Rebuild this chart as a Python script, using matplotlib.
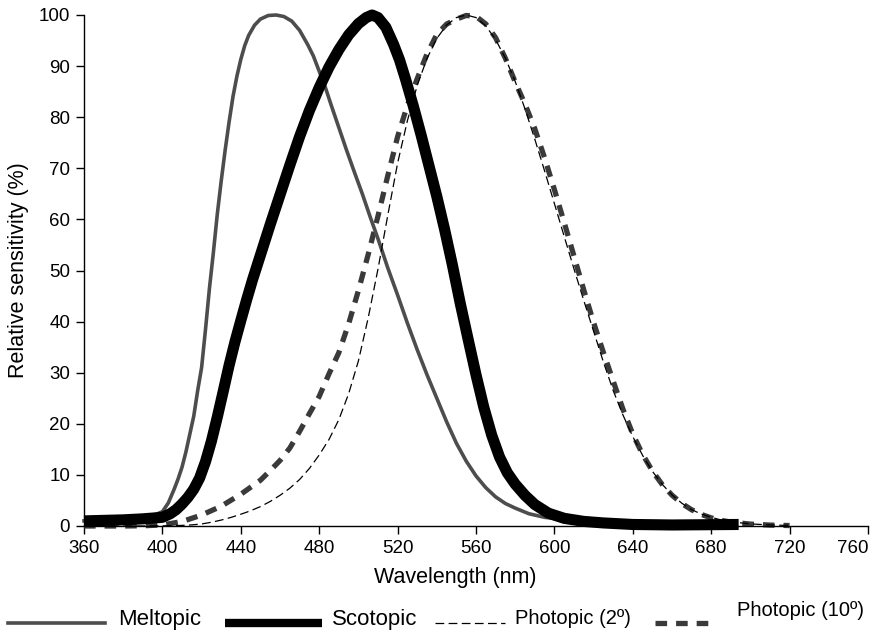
import numpy as np
import matplotlib
matplotlib.use("Agg")
from matplotlib import pyplot as plt
from matplotlib.lines import Line2D

plt.rcParams['font.family'] = ['Liberation Sans', 'DejaVu Sans']

# Melanopic ("Meltopic" in the source legend)
mel_nm = [360, 370, 380, 390, 395, 400, 403, 406, 408, 410, 412, 414, 416, 418, 420, 422, 424,
          426, 428, 430, 432, 434, 436, 438, 440, 442, 444, 447, 450, 454, 458, 462, 466, 470,
          474, 477, 480, 483, 486, 490, 494, 498, 502, 506, 510, 515, 520, 525, 530, 535, 540,
          545, 550, 555, 560, 565, 570, 575, 580, 587, 595, 604, 620, 640, 660, 690]
mel_val = [1.0, 1.1, 1.3, 1.7, 2.0, 2.8, 4.5, 7.2, 9.2, 11.5, 14.5, 18.0, 21.5, 26.5, 31.0, 38.5, 46.5,
           53.5, 61.0, 67.5, 73.5, 79.0, 84.0, 88.0, 91.3, 94.0, 96.0, 98.0, 99.2, 99.9, 100.0, 99.7, 98.8, 97.0,
           94.3, 92.0, 89.0, 86.0, 82.5, 78.0, 73.5, 69.2, 65.0, 60.5, 56.2, 50.5, 45.2, 39.7, 34.5, 29.6, 25.0,
           20.4, 16.2, 12.7, 9.8, 7.5, 5.7, 4.4, 3.5, 2.4, 1.7, 1.3, 0.8, 0.5, 0.4, 0.3]

# Scotopic
sco_nm = [360, 370, 380, 390, 400, 404, 407, 410, 413, 416, 419, 422, 425, 428, 431, 434, 437,
          440, 443, 446, 450, 455, 460, 465, 470, 475, 480, 485, 490, 495, 500, 504, 507, 510,
          514, 518, 521, 524, 528, 532, 536, 540, 544, 548, 552, 556, 560, 564, 568, 572, 576,
          580, 585, 590, 597, 605, 615, 625, 640, 660, 694]
sco_val = [1.0, 1.1, 1.2, 1.4, 1.7, 2.4, 3.2, 4.3, 5.6, 7.2, 9.4, 12.6, 16.6, 21.3, 26.3, 31.4, 36.0,
           40.2, 44.3, 48.2, 53.0, 59.0, 64.8, 70.6, 76.2, 81.3, 85.8, 89.8, 93.2, 96.1, 98.3, 99.5, 100.0, 99.5,
           97.6, 94.2, 91.2, 87.5, 82.2, 76.5, 70.5, 64.5, 58.0, 51.0, 43.5, 36.5, 29.6, 23.2, 17.8, 13.5, 10.4,
           8.2, 6.0, 4.2, 2.5, 1.5, 0.9, 0.6, 0.3, 0.2, 0.3]

# Photopic 2 deg
p2_nm = [360, 370, 380, 390, 400, 405, 410, 415, 420, 425, 430, 435, 440, 445, 450, 455, 460,
         465, 470, 475, 480, 485, 490, 495, 500, 505, 510, 515, 520, 525, 530, 535, 540, 545,
         550, 555, 560, 565, 570, 575, 580, 585, 590, 595, 600, 605, 610, 615, 620, 625, 630,
         635, 640, 645, 650, 655, 660, 665, 670, 675, 680, 685, 690, 700, 710, 720]
p2_val = [0.0, 0.0, 0.0, 0.01, 0.04, 0.06, 0.12, 0.22, 0.4, 0.73, 1.16, 1.68, 2.3, 2.98, 3.8, 4.8, 6.0,
          7.39, 9.1, 11.26, 13.9, 16.93, 20.8, 25.86, 32.3, 40.73, 50.3, 60.82, 71.0, 79.32, 86.2, 91.49, 95.4, 98.03,
          99.5, 100.0, 99.5, 97.86, 95.2, 91.54, 87.0, 81.63, 75.7, 69.49, 63.1, 56.67, 50.3, 44.12, 38.1, 32.1, 26.5,
          21.7, 17.5, 13.82, 10.7, 8.16, 6.1, 4.46, 3.2, 2.32, 1.7, 1.19, 0.82, 0.41, 0.21, 0.1]

# Photopic 10 deg
p10_nm = [360, 380, 390, 400, 410, 420, 430, 440, 450, 455, 460, 465, 470, 475, 480, 485, 490,
          495, 500, 505, 510, 515, 520, 525, 530, 535, 540, 545, 550, 555, 560, 565, 570, 575,
          580, 585, 590, 595, 600, 605, 610, 615, 620, 625, 630, 635, 640, 645, 650, 655, 660,
          665, 670, 675, 680, 685, 690, 700, 710, 720]
p10_val = [0.0, 0.0, 0.04, 0.21, 0.87, 2.14, 3.87, 6.21, 8.95, 10.84, 12.82, 15.25, 18.52, 21.99, 25.36, 29.77, 33.91,
           39.54, 46.08, 53.14, 60.67, 68.57, 76.18, 82.33, 87.52, 92.38, 96.2, 98.22, 99.18, 99.91, 99.73, 98.24, 95.56, 91.52,
           86.89, 82.56, 77.74, 72.04, 65.83, 59.39, 52.8, 46.18, 39.81, 33.96, 28.35, 22.83, 17.98, 14.02, 10.76, 8.12, 6.03,
           4.41, 3.18, 2.26, 1.59, 1.11, 0.77, 0.37, 0.18, 0.09]

xticks = list(range(360, 761, 40))
yticks = list(range(0, 101, 10))

W, H = 880, 634
fig = plt.figure(figsize=(8.8, 6.34), dpi=100)
ax = fig.add_axes([84 / W, 1 - 526 / H, 784 / W, 511 / H])

ls10 = (0, (2.2, 1.7))
ls2 = (0, (7, 3.5))
ax.plot(p10_nm, p10_val, color='#3a3a3a', lw=3.8, ls=ls10, clip_on=False)
ax.plot(mel_nm, mel_val, color='#4d4d4d', lw=2.6, clip_on=False)
ax.plot(sco_nm, sco_val, color='black', lw=8, clip_on=False, solid_capstyle='butt')
ax.plot(p2_nm, p2_val, color='black', lw=0.9, ls=ls2, clip_on=False)

ax.set_xlim(360, 760)
ax.set_ylim(0, 100)
ax.set_xticks(xticks)
ax.set_yticks(yticks)
ax.tick_params(direction='out', length=6, width=1, labelsize=13.5, pad=4)
# last x label sits left of its tick so it stays inside the picture
ax.get_xticklabels()[-1].set_horizontalalignment('right')
for s in ['top', 'right']:
    ax.spines[s].set_visible(False)
for s in ['left', 'bottom']:
    ax.spines[s].set_linewidth(1)

ax.set_xlabel('Wavelength (nm)', fontsize=15.5)
ax.set_ylabel('Relative sensitivity (%)', fontsize=15.5)
ax.xaxis.set_label_coords((455 - 84) / 784, (526 - 567) / 511)
ax.yaxis.set_label_coords((29 - 84) / 784, 0.5)

# legend drawn by hand, the handles have different lengths in the original
def fx(px):
    return px / W

def fy(py):
    return 1 - py / H

entries = [
    ((8, 105), dict(color='#4d4d4d', lw=2.6), 118, 620, 'Meltopic', 16),
    ((225, 322), dict(color='black', lw=6, solid_capstyle='butt'), 332, 620, 'Scotopic', 16),
    ((435, 505), dict(color='black', lw=0.9, ls=ls2), 515, 619, 'Photopic (2º)', 14.5),
    ((655, 715), dict(color='#3a3a3a', lw=3.8, ls=ls10), 737, 611, 'Photopic (10º)', 14.5),
]
for (x0, x1), style, tx, ty, label, fs in entries:
    fig.add_artist(Line2D([fx(x0), fx(x1)], [fy(623), fy(623)], transform=fig.transFigure, **style))
    fig.text(fx(tx), fy(ty), label, fontsize=fs, ha='left', va='center')

plt.savefig('out.png', dpi=100)
